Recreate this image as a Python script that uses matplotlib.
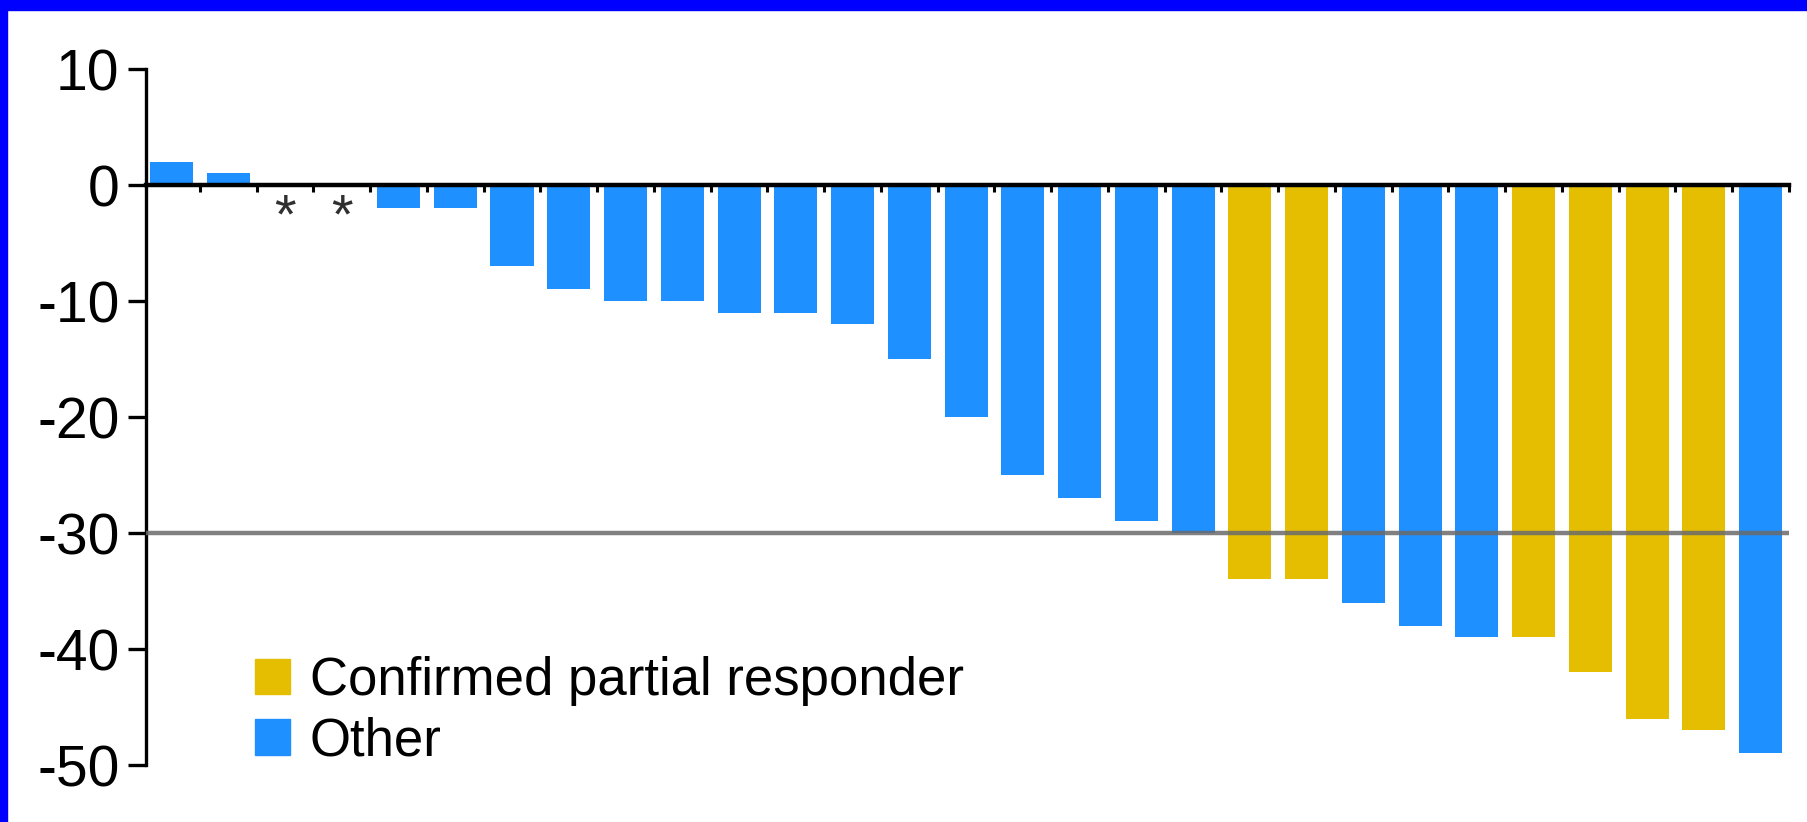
import matplotlib
matplotlib.use("Agg")
import matplotlib.pyplot as plt
from matplotlib.patches import Patch, Rectangle

# change from baseline (%) per patient, sorted
values = [2, 1, 0, 0, -2, -2, -7, -9, -10, -10, -11, -11, -12, -15, -20,
          -25, -27, -29, -30, -34, -34, -36, -38, -39, -39, -42, -46, -47, -49]
groups = ["o", "o", "o", "o", "o", "o", "o", "o", "o", "o", "o", "o", "o", "o", "o",
          "o", "o", "o", "o", "p", "p", "o", "o", "o", "p", "p", "p", "p", "o"]
starred = [2, 3]  # patients with no measurable change
threshold = -30
yticks = [10, 0, -10, -20, -30, -40, -50]
legend_labels = ["Confirmed partial responder", "Other"]

GOLD = "#e5be01"
BLUE = "#1e90ff"

plt.rcParams["font.family"] = ["Liberation Sans", "DejaVu Sans"]
plt.rcParams["axes.unicode_minus"] = False

fig = plt.figure(figsize=(18.07, 8.22), dpi=100)
ax = fig.add_axes([146 / 1807, 1 - 765 / 822, (1789 - 146) / 1807, (765 - 69) / 822])

x = range(len(values))
colors = [GOLD if g == "p" else BLUE for g in groups]
ax.bar(x, values, width=0.76, color=colors, zorder=2)

for i in starred:
    ax.text(i, -2.9, "*", ha="center", va="center", fontsize=40, color="#303030")

ax.axhline(threshold, color="#6a6a6a", lw=3.2, alpha=0.85, zorder=3)

ax.set_xlim(-0.45, len(values) - 0.5)
ax.set_ylim(-50, 10)
ax.set_yticks(yticks)
ax.set_yticklabels([str(t) for t in yticks])
ax.set_xticks([i + 0.5 for i in range(len(values))])
ax.set_xticklabels([])

for s in ["top", "right"]:
    ax.spines[s].set_visible(False)
ax.spines["bottom"].set_position(("data", 0))
ax.spines["bottom"].set_linewidth(3.2)
ax.spines["bottom"].set_zorder(4)
ax.spines["left"].set_linewidth(2.4)

ax.tick_params(axis="y", length=13, width=2.4, pad=6, labelsize=41)
ax.tick_params(axis="x", length=5, width=2.2, direction="out")

handles = [Patch(color=GOLD), Patch(color=BLUE)]
ax.legend(handles, legend_labels, loc="upper left",
          bbox_to_anchor=(255 / 1807, 1 - 656 / 822), bbox_transform=fig.transFigure,
          frameon=False, fontsize=38, handlelength=0.66, handleheight=0.66,
          handletextpad=0.38, labelspacing=0.2, borderpad=0, borderaxespad=0)

# blue frame on top and left edges of the original image
fig.patches.append(Rectangle((0, 1 - 10 / 822), 1, 10 / 822, transform=fig.transFigure,
                             color="#0000ff", zorder=10))
fig.patches.append(Rectangle((0, 0), 7 / 1807, 1, transform=fig.transFigure,
                             color="#0000ff", zorder=10))

fig.savefig("out.png", dpi=100)
